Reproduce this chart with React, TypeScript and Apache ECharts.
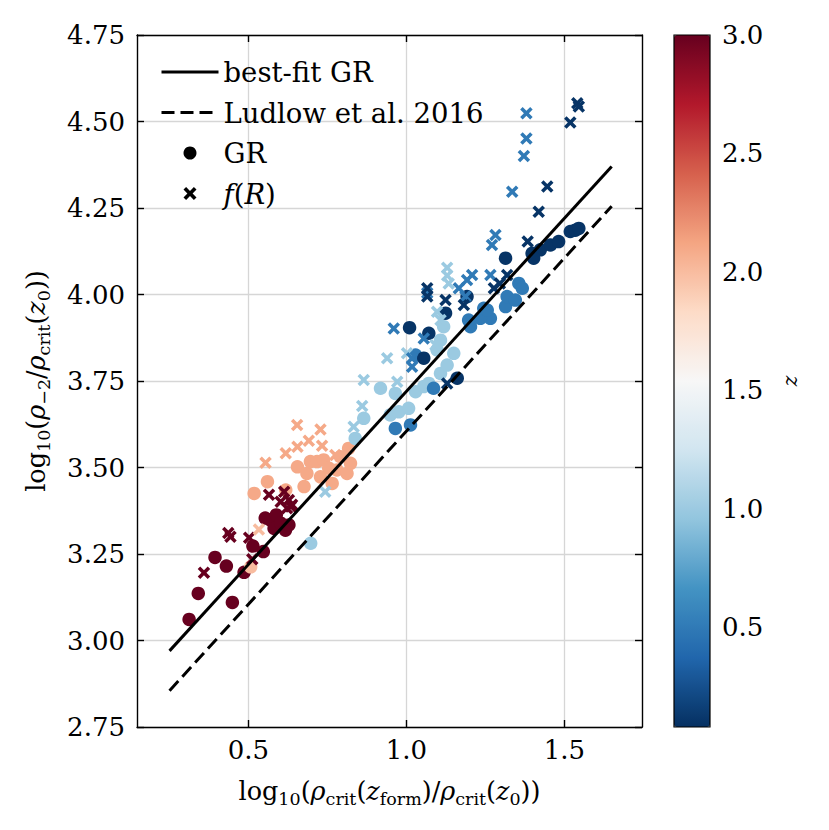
import React, { useEffect, useRef } from 'react';
import * as echarts from 'echarts';

// ---- data ----
const grX = [
  0.312, 0.341, 0.394, 0.430, 0.449, 0.486, 0.514, 0.547, 0.553, 0.570, 0.581, 0.588, 0.602, 0.617, 0.628,
  0.518, 0.560, 0.618, 0.655, 0.676, 0.685, 0.696, 0.717, 0.738, 0.728, 0.754, 0.765, 0.780, 0.791, 0.812, 0.817, 0.823, 0.507,
  0.697, 0.838, 0.865, 0.918, 0.965, 0.949, 0.976, 1.007, 1.029, 1.055, 1.071, 1.108, 1.129, 1.150, 1.118, 1.108, 1.097,
  0.965, 1.013, 1.029, 1.086, 1.197, 1.245, 1.266, 1.314, 1.356, 1.319, 1.345, 1.234, 1.203, 1.256, 1.367,
  1.010, 1.124, 1.071, 1.055, 1.161, 1.192, 1.314, 1.398, 1.424, 1.456, 1.482, 1.519, 1.535, 1.546, 1.403,
];
const grY = [
  3.061, 3.136, 3.240, 3.215, 3.110, 3.197, 3.273, 3.257, 3.354, 3.348, 3.324, 3.363, 3.339, 3.319, 3.334,
  3.425, 3.459, 3.435, 3.502, 3.445, 3.483, 3.517, 3.517, 3.522, 3.473, 3.498, 3.454, 3.493, 3.531, 3.483, 3.555, 3.512, 3.213,
  3.281, 3.584, 3.642, 3.729, 3.714, 3.652, 3.661, 3.671, 3.719, 3.734, 3.743, 3.772, 3.796, 3.830, 3.907, 3.868, 3.840,
  3.613, 3.623, 3.825, 3.729, 3.926, 3.960, 3.931, 3.965, 4.032, 3.994, 3.984, 3.931, 3.907, 3.955, 4.018,
  3.904, 3.946, 3.888, 3.816, 3.758, 3.994, 4.105, 4.119, 4.129, 4.143, 4.153, 4.182, 4.186, 4.191, 4.105,
];
const grZ = [
  3.0, 3.0, 3.0, 3.0, 3.0, 3.0, 3.0, 3.0, 3.0, 3.0, 3.0, 3.0, 3.0, 3.0, 3.0,
  2.1, 2.1, 2.1, 2.1, 2.1, 2.1, 2.1, 2.1, 2.1, 2.1, 2.1, 2.1, 2.1, 2.1, 2.1, 2.1, 2.1, 2.0,
  1.0, 1.0, 1.0, 1.0, 1.0, 1.0, 1.0, 1.0, 1.0, 1.0, 1.0, 1.0, 1.0, 1.0, 1.0, 1.0, 1.0,
  0.5, 0.5, 0.5, 0.5, 0.5, 0.5, 0.5, 0.5, 0.5, 0.5, 0.5, 0.5, 0.5, 0.5, 0.5,
  0.1, 0.1, 0.1, 0.1, 0.1, 0.1, 0.1, 0.1, 0.1, 0.1, 0.1, 0.1, 0.1, 0.1, 0.1,
];

const frX = [
  0.359, 0.443, 0.436, 0.502, 0.512, 0.565, 0.613, 0.628, 0.634, 0.602, 0.638, 0.622,
  0.554, 0.618, 0.655, 0.654, 0.691, 0.728, 0.733, 0.775, 0.533,
  0.743, 0.860, 0.833, 0.865, 0.939, 0.971, 1.002, 1.092, 1.108, 1.097, 1.129, 1.134, 1.129,
  1.380, 1.380, 1.372, 1.335, 1.282, 1.271, 1.266, 1.192, 1.208, 1.166, 1.187, 0.960, 1.018, 1.055, 1.018, 1.066,
  1.519, 1.541, 1.546, 1.446, 1.419, 1.384, 1.319, 1.277, 1.182, 1.066, 1.124, 1.129, 1.066, 1.296,
];
const frY = [
  3.196, 3.300, 3.311, 3.297, 3.235, 3.421, 3.430, 3.406, 3.387, 3.401, 3.392, 3.382,
  3.514, 3.541, 3.560, 3.623, 3.577, 3.610, 3.563, 3.536, 3.321,
  3.430, 3.678, 3.618, 3.753, 3.816, 3.748, 3.830, 3.854, 3.926, 3.950, 4.077, 4.032, 4.055,
  4.524, 4.451, 4.400, 4.297, 4.172, 4.143, 4.056, 4.042, 4.056, 4.018, 3.994, 3.902, 3.816, 3.873, 3.791, 4.004,
  4.497, 4.553, 4.543, 4.312, 4.239, 4.153, 4.056, 4.018, 3.970, 3.994, 3.984, 3.743, 4.018, 4.032,
];
const frZ = [
  3.0, 3.0, 3.0, 3.0, 3.0, 3.0, 3.0, 3.0, 3.0, 3.0, 3.0, 3.0,
  2.1, 2.1, 2.1, 2.1, 2.1, 2.1, 2.1, 2.1, 2.0,
  1.0, 1.0, 1.0, 1.0, 1.0, 1.0, 1.0, 1.0, 1.0, 1.0, 1.0, 1.0, 1.0,
  0.5, 0.5, 0.5, 0.5, 0.5, 0.5, 0.5, 0.5, 0.5, 0.5, 0.5, 0.5, 0.5, 0.5, 0.5, 0.5,
  0.1, 0.1, 0.1, 0.1, 0.1, 0.1, 0.1, 0.1, 0.1, 0.1, 0.1, 0.1, 0.1, 0.1,
];

const fitX = [0.25, 1.65];
const fitY = [2.97, 4.37];
const ludlowX = [0.25, 1.65];
const ludlowY = [2.855, 4.255];

const xTicks = [0.5, 1.0, 1.5];
const cbTicks = [0.5, 1.0, 1.5, 2.0, 2.5, 3.0];
const zMin = 0.08;
const zMax = 3.0;

const RdBu_r = ['#053061', '#2166ac', '#4393c3', '#92c5de', '#d1e5f0', '#f7f7f7', '#fddbc7', '#f4a582', '#d6604d', '#b2182b', '#67001f'];

const FONT = 'DejaVu Serif';
const CROSS = 'path://M0,2L2,0L5,3L8,0L10,2L7,5L10,8L8,10L5,7L2,10L0,8L3,5Z';
const DASH = [13, 6];

const G = { left: 137, top: 35, width: 505, height: 692 };
const CB = { left: 674, top: 35, width: 36, height: 692 };

export default function App() {
  const ref = useRef<HTMLDivElement>(null);
  useEffect(() => {
    const chart = echarts.init(ref.current!, null, { renderer: 'svg' });
    const axisLineStyle = { color: '#000', width: 1.4 };
    const tick = { show: true, inside: true, length: 7, lineStyle: { color: '#000', width: 1.4 } };
    const labelStyle = { fontFamily: FONT, fontSize: 26, color: '#000' };
    const sub = { fontFamily: FONT, fontSize: 17.5, color: '#000', lineHeight: 17, verticalAlign: 'bottom' as const };
    const rm = { fontFamily: FONT, fontSize: 25.5, color: '#000', lineHeight: 34 };
    const it = { ...rm, fontStyle: 'italic' as const };
    const LF = 27.5;

    const option: any = {
      animation: false,
      backgroundColor: '#fff',
      grid: [
        { ...G, containLabel: false },
        { ...CB, containLabel: false },
      ],
      xAxis: [
        {
          type: 'value', gridIndex: 0, position: 'bottom', min: 0.147, max: 1.746,
          axisLine: { show: true, onZero: false, lineStyle: axisLineStyle },
          axisTick: { ...tick, customValues: xTicks },
          axisLabel: { ...labelStyle, customValues: xTicks, margin: 10, formatter: (v: number) => v.toFixed(1) },
          splitLine: { show: true, lineStyle: { color: '#d6d6d6', width: 1.3 } },
          name: '{rm|log}{s|10}{rm|(}{it|ρ}{s|crit}{rm|(}{it|z}{s|form}{rm|)/}{it|ρ}{s|crit}{rm|(}{it|z}{s|0}{rm|))}',
          nameLocation: 'middle', nameGap: 47,
          nameTextStyle: { rich: { rm, it, s: sub } },
        },
        {
          type: 'value', gridIndex: 0, position: 'top', min: 0.147, max: 1.746,
          axisLine: { show: true, onZero: false, lineStyle: axisLineStyle },
          axisTick: { ...tick, customValues: xTicks },
          axisLabel: { show: false },
          splitLine: { show: false },
        },
        { type: 'value', gridIndex: 1, show: false, min: 0, max: 1 },
      ],
      yAxis: [
        {
          type: 'value', gridIndex: 0, position: 'left', min: 2.75, max: 4.75, interval: 0.25,
          axisLine: { show: true, onZero: false, lineStyle: axisLineStyle },
          axisTick: tick,
          axisLabel: { ...labelStyle, margin: 12, formatter: (v: number) => v.toFixed(2) },
          splitLine: { show: true, lineStyle: { color: '#d6d6d6', width: 1.3 } },
          name: '{rm|log}{s|10}{rm|(}{it|ρ}{s|−2}{rm|/}{it|ρ}{s|crit}{rm|(}{it|z}{s|0}{rm|))}',
          nameLocation: 'middle', nameGap: 84,
          nameTextStyle: { rich: { rm, it, s: sub } },
        },
        {
          type: 'value', gridIndex: 0, position: 'right', min: 2.75, max: 4.75, interval: 0.25,
          axisLine: { show: true, onZero: false, lineStyle: axisLineStyle },
          axisTick: tick,
          axisLabel: { show: false },
          splitLine: { show: false },
        },
        {
          type: 'value', gridIndex: 1, position: 'right', min: zMin, max: zMax,
          axisLine: { show: false },
          axisTick: { show: false, customValues: cbTicks },
          axisLabel: { ...labelStyle, customValues: cbTicks, margin: 12, formatter: (v: number) => v.toFixed(1) },
          splitLine: { show: false },
          name: 'z', nameLocation: 'middle', nameGap: 70,
          nameTextStyle: { fontFamily: FONT, fontSize: 20, fontStyle: 'italic', color: '#000' },
        },
      ],
      visualMap: {
        type: 'continuous', min: zMin, max: zMax, dimension: 2, seriesIndex: [0, 1],
        inRange: { color: RdBu_r }, left: CB.left, top: CB.top, itemWidth: CB.width, itemHeight: CB.height,
        calculable: false, padding: 0, orient: 'vertical', show: true,
      },
      legend: {
        left: 160, top: 57, orient: 'vertical', padding: 0, itemGap: 10.5, itemWidth: 57, itemHeight: 13,
        selectedMode: false,
        data: [
          { name: 'best-fit GR', itemStyle: { opacity: 0 }, lineStyle: { color: '#000', width: 3 } },
          { name: 'Ludlow et al. 2016', itemStyle: { opacity: 0 }, lineStyle: { color: '#000', width: 3, type: DASH } },
          { name: 'GR', itemStyle: { color: '#000' } },
          { name: 'f(R)', itemStyle: { color: '#000' } },
        ],
        formatter: (n: string) => (n === 'f(R)' ? '{it|f}{rm|(}{it|R}{rm|)}' : '{rm|' + n + '}'),
        textStyle: {
          fontFamily: FONT, fontSize: LF, color: '#000', lineHeight: 30,
          rich: { rm: { ...rm, fontSize: LF, lineHeight: 30 }, it: { ...it, fontSize: LF, lineHeight: 30 } },
        },
      },
      graphic: [
        {
          type: 'rect', z: 100, silent: true,
          shape: { x: CB.left, y: CB.top, width: CB.width, height: CB.height },
          style: { fill: 'none', stroke: '#000', lineWidth: 1.2 },
        },
      ],
      series: [
        {
          name: 'GR', type: 'scatter', xAxisIndex: 0, yAxisIndex: 0, symbol: 'circle', symbolSize: 13.5,
          data: grX.map((x, i) => [x, grY[i], grZ[i]]), itemStyle: { opacity: 1 }, z: 2,
        },
        {
          name: 'f(R)', type: 'scatter', xAxisIndex: 0, yAxisIndex: 0, symbol: CROSS, symbolSize: 12.5,
          data: frX.map((x, i) => [x, frY[i], frZ[i]]), itemStyle: { opacity: 1 }, z: 3,
        },
        {
          name: 'best-fit GR', type: 'line', xAxisIndex: 0, yAxisIndex: 0, symbol: 'none', z: 4,
          data: fitX.map((x, i) => [x, fitY[i]]), lineStyle: { color: '#000', width: 3 },
          itemStyle: { color: '#000' },
        },
        {
          name: 'Ludlow et al. 2016', type: 'line', xAxisIndex: 0, yAxisIndex: 0, symbol: 'none', z: 4,
          data: ludlowX.map((x, i) => [x, ludlowY[i]]), lineStyle: { color: '#000', width: 3, type: DASH },
          itemStyle: { color: '#000' },
        },
      ],
    };
    chart.setOption(option);
    return () => chart.dispose();
  }, []);
  return <div ref={ref} style={{ position: 'fixed', left: 0, top: 0, width: 829, height: 830 }} />;
}
